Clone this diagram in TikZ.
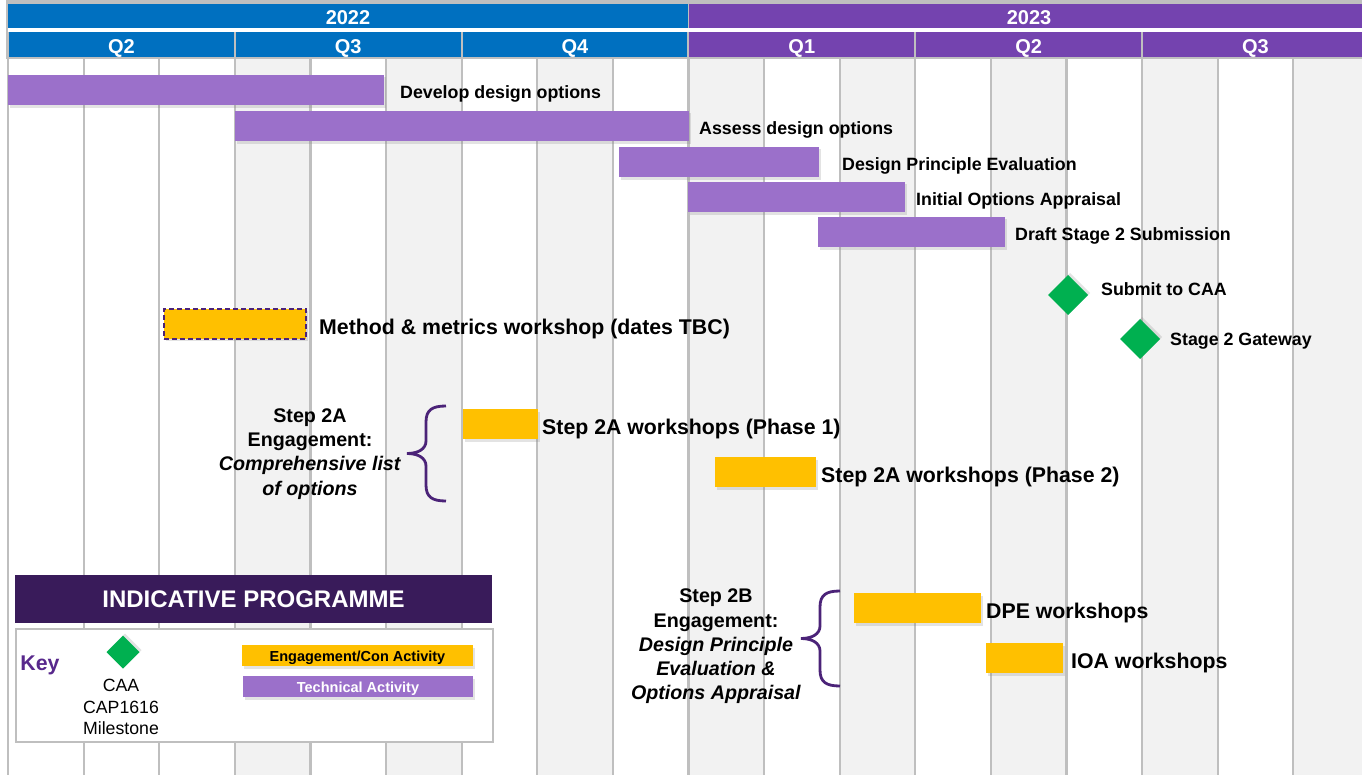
\documentclass[tikz,border=0pt]{standalone}
\usepackage{fontspec}
\setmainfont{Liberation Sans}
\usetikzlibrary{positioning,shapes.geometric,shadows}
\definecolor{hdrblue}{HTML}{0070C0}
\definecolor{hdrpurple}{HTML}{7443AF}
\definecolor{techpurple}{RGB}{155,112,202}
\definecolor{engyellow}{HTML}{FFC000}
\definecolor{msgreen}{HTML}{00B050}
\definecolor{titlepurple}{HTML}{391B5A}
\definecolor{keypurple}{RGB}{88,40,140}
\definecolor{bracepurple}{RGB}{75,35,120}
\definecolor{colgray}{HTML}{F2F2F2}
\definecolor{gridgray}{HTML}{BFBFBF}
\begin{document}
\begin{tikzpicture}[x=1pt, y=-1pt,
  hdr/.style={text=white, inner sep=0, outer sep=0, anchor=north west, text height=18pt, text depth=0pt, font=\bfseries\fontsize{20}{22}\selectfont},
  tech/.style={fill=techpurple, inner sep=0, outer sep=0, minimum height=30.5pt, drop shadow={opacity=0.22, shadow xshift=1.5pt, shadow yshift=-2.5pt}},
  engage/.style={fill=engyellow, inner sep=0, outer sep=0, minimum height=30pt, drop shadow={opacity=0.22, shadow xshift=1.5pt, shadow yshift=-2.5pt}},
  ms/.style={diamond, fill=msgreen, inner sep=0, outer sep=0, minimum width=40pt, minimum height=40pt, drop shadow={opacity=0.22, shadow xshift=2pt, shadow yshift=2pt}},
  tlbl/.style={inner sep=0, yshift=-3.5pt, font=\bfseries\fontsize{17.8}{20}\selectfont},
  wlbl/.style={inner sep=0, yshift=-4.5pt, font=\bfseries\fontsize{21.3}{24}\selectfont},
  note/.style={inner sep=0, align=center, font=\bfseries\fontsize{19.7}{24.2}\selectfont},
  keybar/.style={minimum height=21pt, anchor=north west, text height=12pt, text depth=0pt, font=\bfseries\fontsize{14.5}{16}\selectfont},
  brc/.style={draw=bracepurple, line width=2.8pt},
  curlybrace/.pic={\draw[brc] (0,0) .. controls (-14,0) and (-20,4) .. (-20,16) -- (-20,35)
      .. controls (-20,43) and (-28,47.5) .. (-39,47.5) .. controls (-28,47.5) and (-20,52) .. (-20,60)
      -- (-20,79) .. controls (-20,91) and (-14,95) .. (0,95);}]
\useasboundingbox (0,0) rectangle (1362,775);
% month columns
\foreach \i in {3,5,...,17}
  \fill[colgray] ({8+75.6*\i},58) rectangle ({8+75.6*(\i+1)},775);
\foreach \i in {0,...,18}
  \draw[gridgray, line width=2.2pt] ({8+75.6*\i},58) -- ({8+75.6*\i},775);
% header
\fill[gridgray] (6,0) rectangle (1362,59);
\fill[white] (8,28) rectangle (1362,32);
\node[hdr, fill=hdrblue, minimum width=680pt, minimum height=24pt] (y22) at (8,4) {2022};
\node[hdr, fill=hdrpurple, minimum width=680pt, minimum height=24pt] (y23) at (689,4) {2023};
\foreach \k/\t/\c in {0/Q2/hdrblue, 1/Q3/hdrblue, 2/Q4/hdrblue, 3/Q1/hdrpurple, 4/Q2/hdrpurple, 5/Q3/hdrpurple}
  \node[hdr, fill=\c, minimum width=224.8pt, minimum height=25pt] (q\k) at ({9+226.8*\k},32) {\t};
% technical activities
\foreach \k/\xa/\xb/\ya/\g/\txt in {dev/8/384/75/16/Develop design options,
    ass/235/689/111/10/Assess design options, dpe/619/819/147/23/Design Principle Evaluation,
    ioa/688/905/182/11/Initial Options Appraisal, dft/818/1005/217/10/Draft Stage 2 Submission}{
  \pgfmathsetmacro\w{\xb-\xa}
  \node[tech, minimum width=\w pt, anchor=north west] (\k) at (\xa,\ya) {};
  \node[tlbl, right=\g pt of \k] (\k-t) {\txt};
}
% milestones
\node[ms] (sub) at (1068,295) {};
\node[tlbl, right=13pt of sub, yshift=9pt] (sub-t) {Submit to CAA};
\node[ms] (gate) at (1140,339) {};
\node[tlbl, right=10pt of gate, yshift=1.5pt] (gate-t) {Stage 2 Gateway};
% engagement
\node[engage, draw=bracepurple, line width=2pt, dash pattern=on 5pt off 3pt, minimum width=142pt, anchor=north west] (mm) at (164,309) {};
\node[wlbl, right=13pt of mm] (mm-t) {Method \& metrics workshop (dates TBC)};
\foreach \k/\xa/\xb/\ya/\g/\txt in {p1/463/538/409/4/Step 2A workshops (Phase 1),
    p2/715/816/457/5/Step 2A workshops (Phase 2), dpw/854/981/593/5/DPE workshops,
    ioaw/986/1063/643/8/IOA workshops}{
  \pgfmathsetmacro\w{\xb-\xa}
  \node[engage, minimum width=\w pt, anchor=north west] (\k) at (\xa,\ya) {};
  \node[wlbl, right=\g pt of \k] (\k-t) {\txt};
}
\node[note] (s2a) at (310,454) {Step 2A\\Engagement:\\\textit{Comprehensive list}\\\textit{of options}};
\pic (b2a) at (446,406) {curlybrace};
\node[note] (s2b) at (716,646.5) {Step 2B\\Engagement:\\\textit{Design Principle}\\\textit{Evaluation \&}\\\textit{Options Appraisal}};
\pic (b2b) at (840,591) {curlybrace};
% key
\node[fill=titlepurple, text=white, inner sep=0, outer sep=0, minimum width=477pt, minimum height=48pt, anchor=north west,
  font=\bfseries\fontsize{24}{26}\selectfont] (title) at (15,575) {INDICATIVE PROGRAMME};
\node[draw=gridgray, line width=1.5pt, fill=white, inner sep=0, minimum width=477pt, minimum height=113pt, anchor=north west] (keybox) at (15,628) {};
\node[inner sep=0, text=keypurple, font=\bfseries\fontsize{21.3}{24}\selectfont] (key) at (40,665) {Key};
\node[ms, minimum width=33pt, minimum height=33pt] (keyms) at (123,652) {};
\node[inner sep=0, align=center, font=\fontsize{17.7}{21.5}\selectfont] (keyms-t) at (121,707) {CAA\\CAP1616\\Milestone};
\node[engage, keybar, minimum width=231pt] (keye) at (242,645) {Engagement/Con Activity};
\node[tech, keybar, text=white, minimum width=230pt] (keyt) at (243,676) {Technical Activity};
\end{tikzpicture}
\end{document}
